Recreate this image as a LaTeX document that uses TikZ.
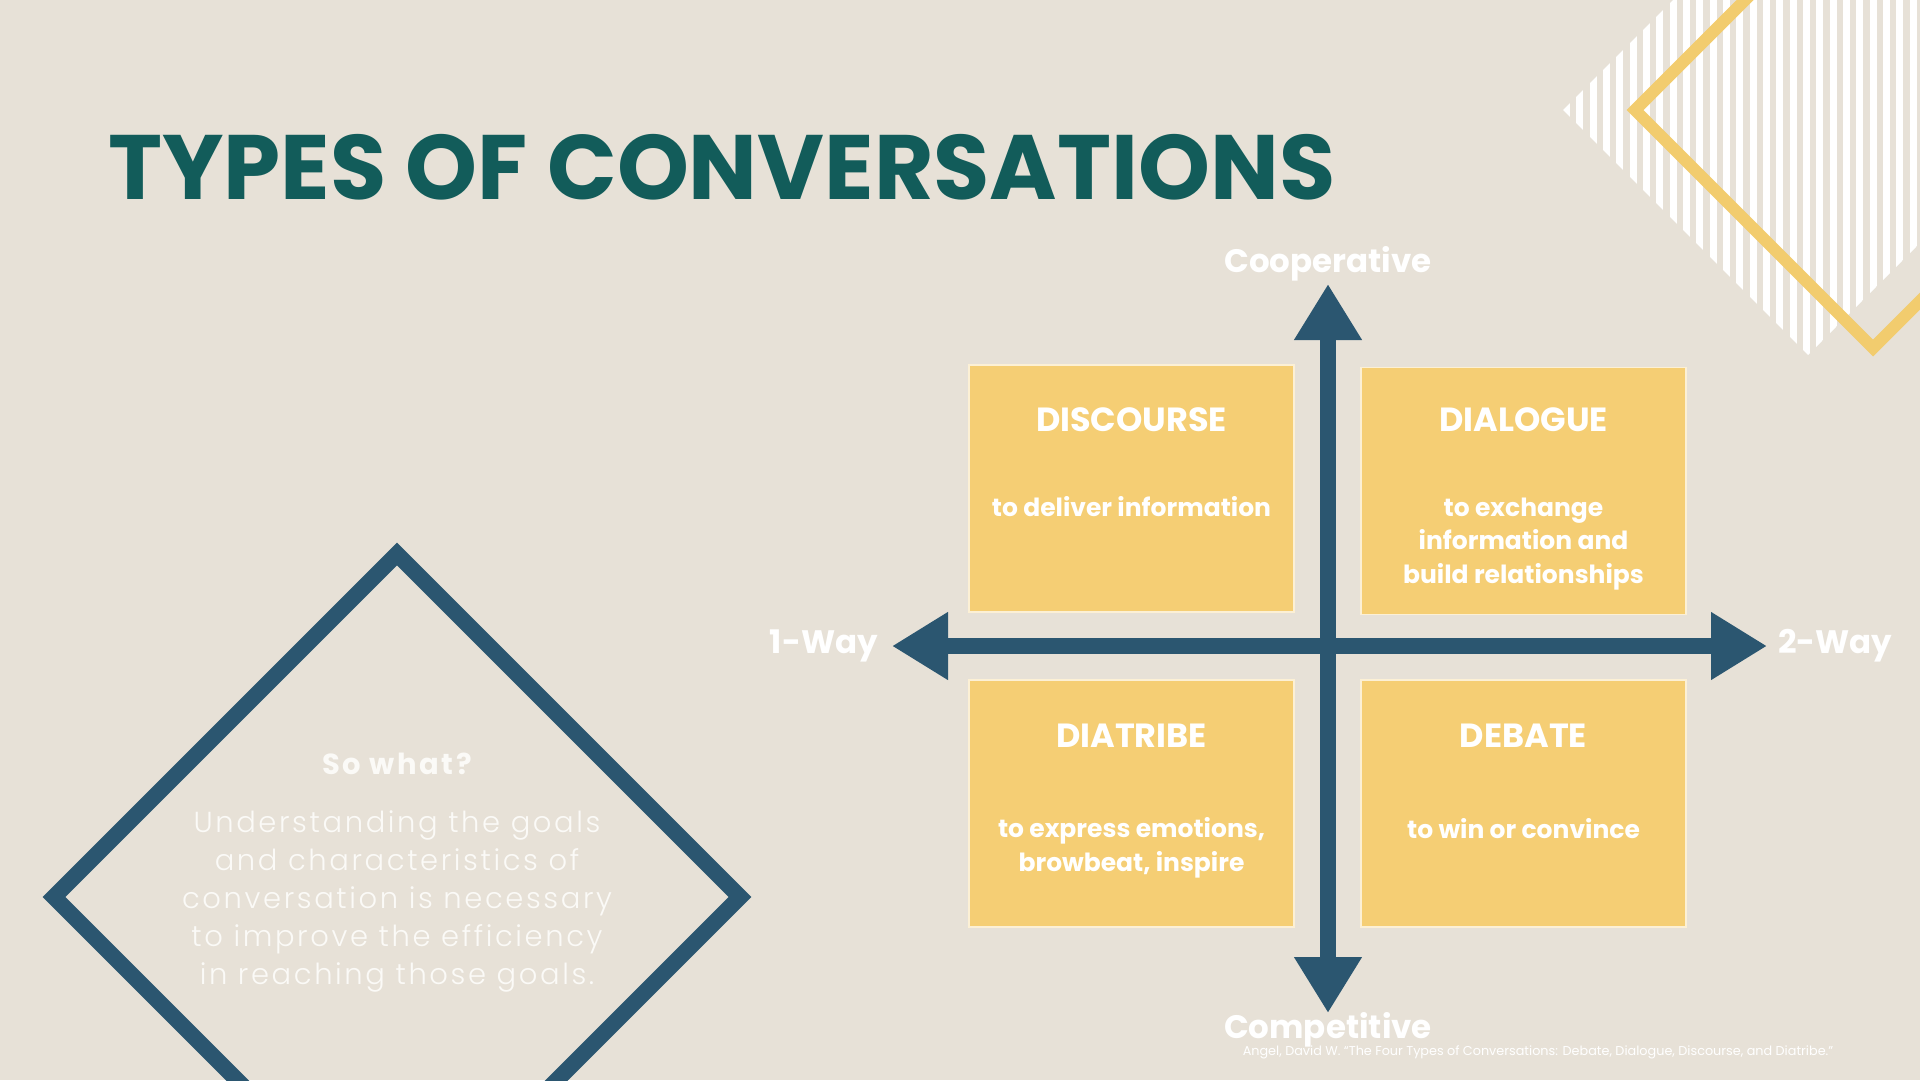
\documentclass[tikz,border=0pt]{standalone}
\usepackage{fontspec}
\setmainfont{Poppins}
\IfFontExistsTF{Poppins Light}
  {\newfontfamily\thinfont[LetterSpace=9]{Poppins Light}}
  {\newfontfamily\thinfont[LetterSpace=9]{Poppins}}
\newfontfamily\spacedfont[LetterSpace=9]{Poppins}
\usetikzlibrary{arrows.meta}

\definecolor{bgsand}{HTML}{E7E1D7}
\definecolor{titleteal}{HTML}{125C5A}
\definecolor{axisblue}{HTML}{2B5670}
\definecolor{boxyellow}{HTML}{F5CE74}
\definecolor{lineyellow}{HTML}{F2CC6E}
\definecolor{softwhite}{HTML}{FBFAF7}

\tikzset{
  quad/.style={rectangle,fill=boxyellow,draw=white!70!boxyellow,line width=1.5pt,
               minimum width=325pt,minimum height=247pt,inner sep=0pt},
  quadtitle/.style={anchor=base,text=white,font=\fontsize{33.5}{38}\selectfont\bfseries},
  quadtext/.style={anchor=base,text=white,align=center,font=\fontsize{25}{33.3}\selectfont\bfseries},
  axislabel/.style={text=white,font=\fontsize{32.5}{40}\selectfont\bfseries},
}

\begin{document}
\begin{tikzpicture}[x=1pt,y=-1pt]
\useasboundingbox (0,0) rectangle (1920,1080);
\fill[bgsand] (0,0) rectangle (1920,1080);

% striped corner
\begin{scope}
    \clip (0,0) rectangle (1920,1080);
    \clip (1563,110) -- (1808,-135) -- (2053,110) -- (1808,355) -- cycle;
    \foreach \s in {0,...,27}
        \fill[white] ({1563+13.33*\s},-150) rectangle +(7,520);
\end{scope}
\draw[lineyellow,line width=12pt] (1635,110) -- (1873,-128) -- (2111,110) -- (1873,348) -- cycle;

\node[anchor=base west,text=titleteal,inner sep=0pt,font=\fontsize{91.5}{100}\selectfont\bfseries]
    (title) at (108,199) {TYPES OF CONVERSATIONS};

% so what diamond
\draw[axisblue,line width=16pt] (397,554) -- (740,897) -- (397,1240) -- (54,897) -- cycle;
\begin{scope}[every node/.style={text=softwhite,inner sep=0pt}]
    \node[anchor=base,font=\fontsize{29}{36}\selectfont\spacedfont\bfseries] (sowhat) at (397,774) {So what?};
    \node[anchor=base,align=center,font=\fontsize{29}{37.9}\selectfont\thinfont]
        (why) at (397,984) {Understanding the goals\\and characteristics of\\conversation is necessary\\to improve the efficiency\\in reaching those goals.};
\end{scope}

% quadrants
\begin{scope}[every node/.style={quad}]
    \node (discourse) at (1131.5,488.5) {};
    \node (dialogue) at (1523.5,491) {};
    \node (diatribe) at (1131.5,803.5) {};
    \node (debate) at (1523.5,803.5) {};
\end{scope}
\node[quadtitle] (discoursehead) at (1131.5,431) {DISCOURSE};
\node[quadtext] (discoursegoal) at (1131.5,516) {to deliver information};
\node[quadtitle] (dialoguehead) at (1523.5,431) {DIALOGUE};
\node[quadtext] (dialoguegoal) at (1523.5,583) {to exchange\\information and\\build relationships};
\node[quadtitle] (diatribehead) at (1131.5,747) {DIATRIBE};
\node[quadtext] (diatribegoal) at (1131.5,871) {to express emotions,\\browbeat, inspire};
\node[quadtitle] (debatehead) at (1523.5,747) {DEBATE};
\node[quadtext] (debategoal) at (1523.5,838) {to win or convince};

% axes
\coordinate (oneway) at (892,646);
\coordinate (twoway) at (1767,646);
\coordinate (coop) at (1328,284);
\coordinate (comp) at (1328,1013);
\begin{scope}[>={Triangle[width=64pt,length=56pt]},
              every edge/.style={draw=axisblue,line width=16pt}]
    \path [<->] (oneway) edge (twoway);
    \path [<->] (comp) edge (coop);
\end{scope}

\begin{scope}[every node/.style={axislabel,inner sep=0pt}]
    \node[anchor=base] (cooplabel) at (1328,272) {Cooperative};
    \node[anchor=base] (complabel) at (1328,1038) {Competitive};
    \node[anchor=east] (onelabel) at (878,646) {1-Way};
    \node[anchor=west] (twolabel) at (1778,646) {2-Way};
\end{scope}

\node[anchor=base,text=white,inner sep=0pt,font=\fontsize{12.8}{14}\selectfont]
    (source) at (1538,1055) {Angel, David W. “The Four Types of Conversations: Debate, Dialogue, Discourse, and Diatribe.”};
\end{tikzpicture}
\end{document}
